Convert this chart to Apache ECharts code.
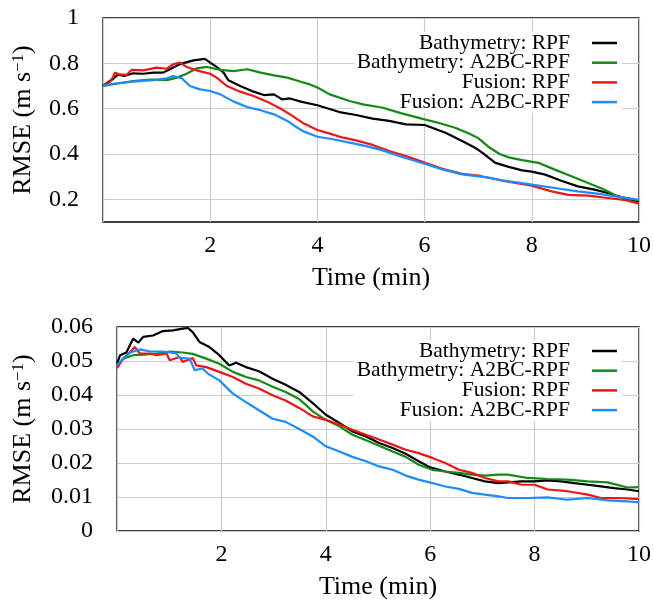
<!DOCTYPE html>
<html>
<head>
<meta charset="utf-8">
<script src="https://cdn.jsdelivr.net/npm/echarts@6/dist/echarts.min.js"></script>
<style>html,body{margin:0;padding:0;background:#fff}#c{width:654px;height:606px}</style>
</head>
<body>
<div id="c"></div>
<script>
// ---- Data ----
const seriesNames = ['Bathymetry: RPF', 'Bathymetry: A2BC-RPF', 'Fusion: RPF', 'Fusion: A2BC-RPF'];
const seriesColors = ['#000000', '#138a13', '#f01515', '#1a8cff'];

const xTicks = [2, 4, 6, 8, 10];
const topYTicks = [0.2, 0.4, 0.6, 0.8, 1];
const botYTicks = [0, 0.01, 0.02, 0.03, 0.04, 0.05, 0.06];

// Top panel: [time (min), RMSE]
const topBathyRpf = [[0,0.70],[0.19,0.732],[0.28,0.75],[0.4,0.744],[0.56,0.756],[0.75,0.754],[0.94,0.759],[1.12,0.759],[1.25,0.774],[1.4,0.793],[1.53,0.803],[1.69,0.813],[1.9,0.82],[2.0,0.803],[2.12,0.784],[2.25,0.759],[2.34,0.725],[2.56,0.70],[2.81,0.675],[3.0,0.66],[3.19,0.663],[3.34,0.641],[3.49,0.645],[3.69,0.631],[4.0,0.615],[4.41,0.585],[4.72,0.572],[5.03,0.556],[5.34,0.546],[5.65,0.531],[6.0,0.528],[6.14,0.516],[6.39,0.494],[6.7,0.457],[6.94,0.428],[7.08,0.405],[7.32,0.361],[7.57,0.343],[7.82,0.328],[8.0,0.322],[8.25,0.309],[8.55,0.282],[8.86,0.257],[9.17,0.243],[9.42,0.228],[9.72,0.206],[10,0.191]];
const topBathyA2bc = [[0,0.70],[0.25,0.71],[0.56,0.722],[0.88,0.728],[1.19,0.726],[1.38,0.737],[1.56,0.754],[1.75,0.778],[1.94,0.784],[2.19,0.771],[2.44,0.766],[2.69,0.774],[2.94,0.759],[3.19,0.747],[3.44,0.737],[3.69,0.719],[3.86,0.707],[4.0,0.693],[4.23,0.663],[4.6,0.634],[4.85,0.619],[5.22,0.604],[5.59,0.578],[6.0,0.553],[6.27,0.537],[6.57,0.516],[6.83,0.49],[7.0,0.47],[7.2,0.43],[7.4,0.40],[7.57,0.385],[7.82,0.373],[8.12,0.361],[8.43,0.331],[8.74,0.302],[9.05,0.272],[9.35,0.243],[9.6,0.213],[10,0.195]];
const topFusionRpf = [[0,0.70],[0.12,0.715],[0.19,0.74],[0.22,0.759],[0.31,0.751],[0.44,0.749],[0.53,0.771],[0.75,0.769],[1.0,0.781],[1.19,0.776],[1.31,0.796],[1.44,0.803],[1.56,0.784],[1.75,0.769],[2.0,0.754],[2.12,0.737],[2.31,0.70],[2.56,0.675],[2.81,0.656],[3.06,0.631],[3.31,0.601],[3.49,0.575],[3.73,0.537],[4.0,0.506],[4.23,0.49],[4.48,0.472],[4.72,0.46],[5.03,0.44],[5.34,0.413],[5.65,0.391],[6.0,0.362],[6.33,0.335],[6.7,0.313],[7.0,0.305],[7.45,0.282],[8.0,0.26],[8.37,0.235],[8.68,0.22],[9.05,0.216],[9.42,0.206],[9.72,0.198],[10,0.181]];
const topFusionA2bc = [[0,0.70],[0.19,0.71],[0.56,0.719],[0.94,0.726],[1.19,0.734],[1.31,0.744],[1.47,0.734],[1.62,0.70],[1.81,0.685],[2.0,0.678],[2.19,0.663],[2.44,0.631],[2.69,0.607],[2.94,0.593],[3.19,0.575],[3.44,0.546],[3.6,0.52],[3.73,0.501],[4.0,0.476],[4.29,0.465],[4.6,0.45],[4.91,0.435],[5.22,0.416],[5.52,0.391],[6.0,0.357],[6.33,0.332],[6.7,0.31],[7.19,0.296],[7.45,0.284],[8.0,0.265],[8.43,0.25],[8.86,0.235],[9.29,0.223],[9.66,0.21],[10,0.198]];

// Bottom panel: [time (min), RMSE]
const botBathyRpf = [[0,0.0492],[0.06,0.0517],[0.18,0.0525],[0.31,0.0566],[0.41,0.0554],[0.5,0.0571],[0.69,0.0575],[0.88,0.0588],[1.07,0.059],[1.26,0.0595],[1.36,0.0597],[1.45,0.0585],[1.58,0.0556],[1.77,0.0541],[1.96,0.0517],[2.15,0.0487],[2.28,0.0495],[2.47,0.0482],[2.72,0.047],[2.98,0.0448],[3.23,0.043],[3.49,0.0409],[3.6,0.0395],[3.75,0.0376],[4.0,0.0342],[4.26,0.0318],[4.51,0.0293],[4.77,0.0278],[5.02,0.0259],[5.28,0.0244],[5.53,0.0227],[5.78,0.0205],[6.0,0.0187],[6.29,0.0175],[6.55,0.0166],[6.8,0.0156],[7.05,0.0146],[7.31,0.0141],[7.49,0.0143],[7.75,0.0146],[8.0,0.0146],[8.25,0.0149],[8.51,0.0146],[8.76,0.0141],[9.02,0.0136],[9.27,0.0131],[9.52,0.0126],[9.78,0.0122],[10,0.0117]];
const botBathyA2bc = [[0,0.0487],[0.12,0.0507],[0.31,0.0517],[0.5,0.0519],[0.76,0.0522],[1.01,0.0528],[1.26,0.0525],[1.45,0.0521],[1.71,0.0507],[1.96,0.0492],[2.22,0.0468],[2.47,0.0453],[2.72,0.0443],[2.98,0.0424],[3.23,0.0409],[3.49,0.0388],[3.6,0.0373],[3.75,0.0352],[4.0,0.0327],[4.26,0.0308],[4.51,0.0283],[4.77,0.0267],[5.02,0.0251],[5.28,0.0234],[5.53,0.0218],[5.78,0.0195],[6.04,0.018],[6.29,0.0175],[6.55,0.0171],[6.8,0.0166],[7.05,0.0163],[7.31,0.0166],[7.49,0.0166],[7.87,0.0156],[8.25,0.0153],[8.63,0.0151],[9.02,0.0146],[9.4,0.0143],[9.78,0.0128],[10,0.0129]];
const botFusionRpf = [[0,0.0479],[0.12,0.0507],[0.25,0.0526],[0.34,0.0541],[0.44,0.0522],[0.63,0.0522],[0.76,0.0517],[0.95,0.0522],[1.01,0.0502],[1.2,0.0512],[1.26,0.0497],[1.45,0.0509],[1.52,0.0487],[1.71,0.0482],[1.96,0.0468],[2.22,0.0453],[2.47,0.0433],[2.72,0.0419],[2.98,0.0399],[3.23,0.0384],[3.49,0.0362],[3.75,0.0337],[4.0,0.0327],[4.26,0.0313],[4.51,0.0298],[4.77,0.0283],[5.02,0.0269],[5.28,0.0254],[5.53,0.0239],[5.78,0.0229],[6.04,0.0215],[6.29,0.02],[6.55,0.018],[6.8,0.0171],[7.05,0.0156],[7.31,0.0146],[7.49,0.0146],[7.75,0.0136],[8.0,0.0136],[8.25,0.0122],[8.63,0.0117],[9.02,0.0107],[9.27,0.0097],[9.65,0.0097],[10,0.0094]];
const botFusionA2bc = [[0,0.0489],[0.12,0.0507],[0.25,0.0525],[0.44,0.0534],[0.63,0.0528],[0.88,0.0528],[1.14,0.0522],[1.2,0.0509],[1.39,0.0507],[1.49,0.0473],[1.64,0.0478],[1.74,0.0463],[1.96,0.0443],[2.22,0.0404],[2.47,0.0379],[2.72,0.0355],[2.98,0.033],[3.23,0.0321],[3.49,0.03],[3.75,0.0278],[4.0,0.0249],[4.26,0.0234],[4.51,0.0218],[4.77,0.0205],[5.02,0.019],[5.28,0.018],[5.53,0.0163],[5.78,0.0151],[6.04,0.0141],[6.29,0.0131],[6.55,0.0124],[6.8,0.0112],[7.05,0.0107],[7.31,0.0102],[7.49,0.0097],[7.87,0.0097],[8.25,0.0099],[8.63,0.0092],[9.02,0.0097],[9.4,0.009],[9.78,0.0087],[10,0.0084]];

const topData = [topBathyRpf, topBathyA2bc, topFusionRpf, topFusionA2bc];
const botData = [botBathyRpf, botBathyA2bc, botFusionRpf, botFusionA2bc];

// ---- Chart ----
const FONT = 'Liberation Serif';
const chart = echarts.init(document.getElementById('c'), null, {renderer: 'canvas'});

function near(v, list) { return list.some(t => Math.abs(t - v) < 1e-9); }

function xAxisCfg(gridIndex) {
  return {
    type: 'value', gridIndex: gridIndex, min: 0, max: 10, interval: 2,
    name: 'Time (min)', nameLocation: 'middle', nameGap: 43,
    nameTextStyle: {fontFamily: FONT, fontSize: 26, color: '#000'},
    axisLine: {show: false}, axisTick: {show: false},
    axisLabel: {margin: 12, fontFamily: FONT, fontSize: 24, color: '#000',
      formatter: v => near(v, xTicks) ? String(v) : ''},
    splitLine: {show: true, lineStyle: {color: '#cccccc', width: 1.2}}
  };
}

const yNameRich = {sup: {fontFamily: FONT, fontSize: 17, verticalAlign: 'top', lineHeight: 17, color: '#000'}};

const option = {
  animation: false,
  backgroundColor: '#fff',
  grid: [
    {left: 103, right: 12, top: 18, height: 204, show: true, borderColor: '#000', borderWidth: 1.3, backgroundColor: 'transparent'},
    {left: 117, right: 12, top: 327, height: 204, show: true, borderColor: '#000', borderWidth: 1.3, backgroundColor: 'transparent'}
  ],
  xAxis: [xAxisCfg(0), xAxisCfg(1)],
  yAxis: [
    {
      type: 'value', gridIndex: 0, min: 0.1, max: 1, interval: 0.1,
      name: 'RMSE (m s{sup|−1})', nameLocation: 'middle', nameGap: 67,
      nameTextStyle: {fontFamily: FONT, fontSize: 26, color: '#000', rich: yNameRich},
      axisLine: {show: false}, axisTick: {show: false},
      axisLabel: {margin: 24, fontFamily: FONT, fontSize: 24, color: '#000',
        formatter: v => near(v, topYTicks) ? (Math.abs(v - 1) < 1e-9 ? '1' : v.toFixed(1)) : ''},
      splitLine: {show: true, lineStyle: {color: ['rgba(0,0,0,0)', '#cccccc'], width: 1.2}}
    },
    {
      type: 'value', gridIndex: 1, min: 0, max: 0.06, interval: 0.01,
      name: 'RMSE (m s{sup|−1})', nameLocation: 'middle', nameGap: 81,
      nameTextStyle: {fontFamily: FONT, fontSize: 26, color: '#000', rich: yNameRich},
      axisLine: {show: false}, axisTick: {show: false},
      axisLabel: {margin: 24, fontFamily: FONT, fontSize: 24, color: '#000',
        formatter: v => near(v, botYTicks) ? (v === 0 ? '0' : v.toFixed(2)) : ''},
      splitLine: {show: true, lineStyle: {color: '#cccccc', width: 1.2}}
    }
  ],
  legend: [0, 1].map(i => ({
    data: seriesNames,
    orient: 'vertical', align: 'right', right: 32, top: i === 0 ? 32 : 340,
    itemGap: -2.3, itemWidth: 25, itemHeight: 2.5, icon: 'rect',
    padding: [0, 5, 0, 3], backgroundColor: '#fff',
    selectedMode: false, z: 4,
    textStyle: {fontFamily: FONT, fontSize: 21.5, lineHeight: 18.5, color: '#000', padding: [0, 17, 0, 0]}
  })),
  series: []
};

[topData, botData].forEach((panel, p) => {
  panel.forEach((d, i) => {
    option.series.push({
      type: 'line', name: seriesNames[i], xAxisIndex: p, yAxisIndex: p,
      data: d, showSymbol: false, symbol: 'none',
      lineStyle: {color: seriesColors[i], width: 2.2},
      itemStyle: {color: seriesColors[i]},
      z: 5 + i
    });
  });
});

chart.setOption(option);
</script>
</body>
</html>
